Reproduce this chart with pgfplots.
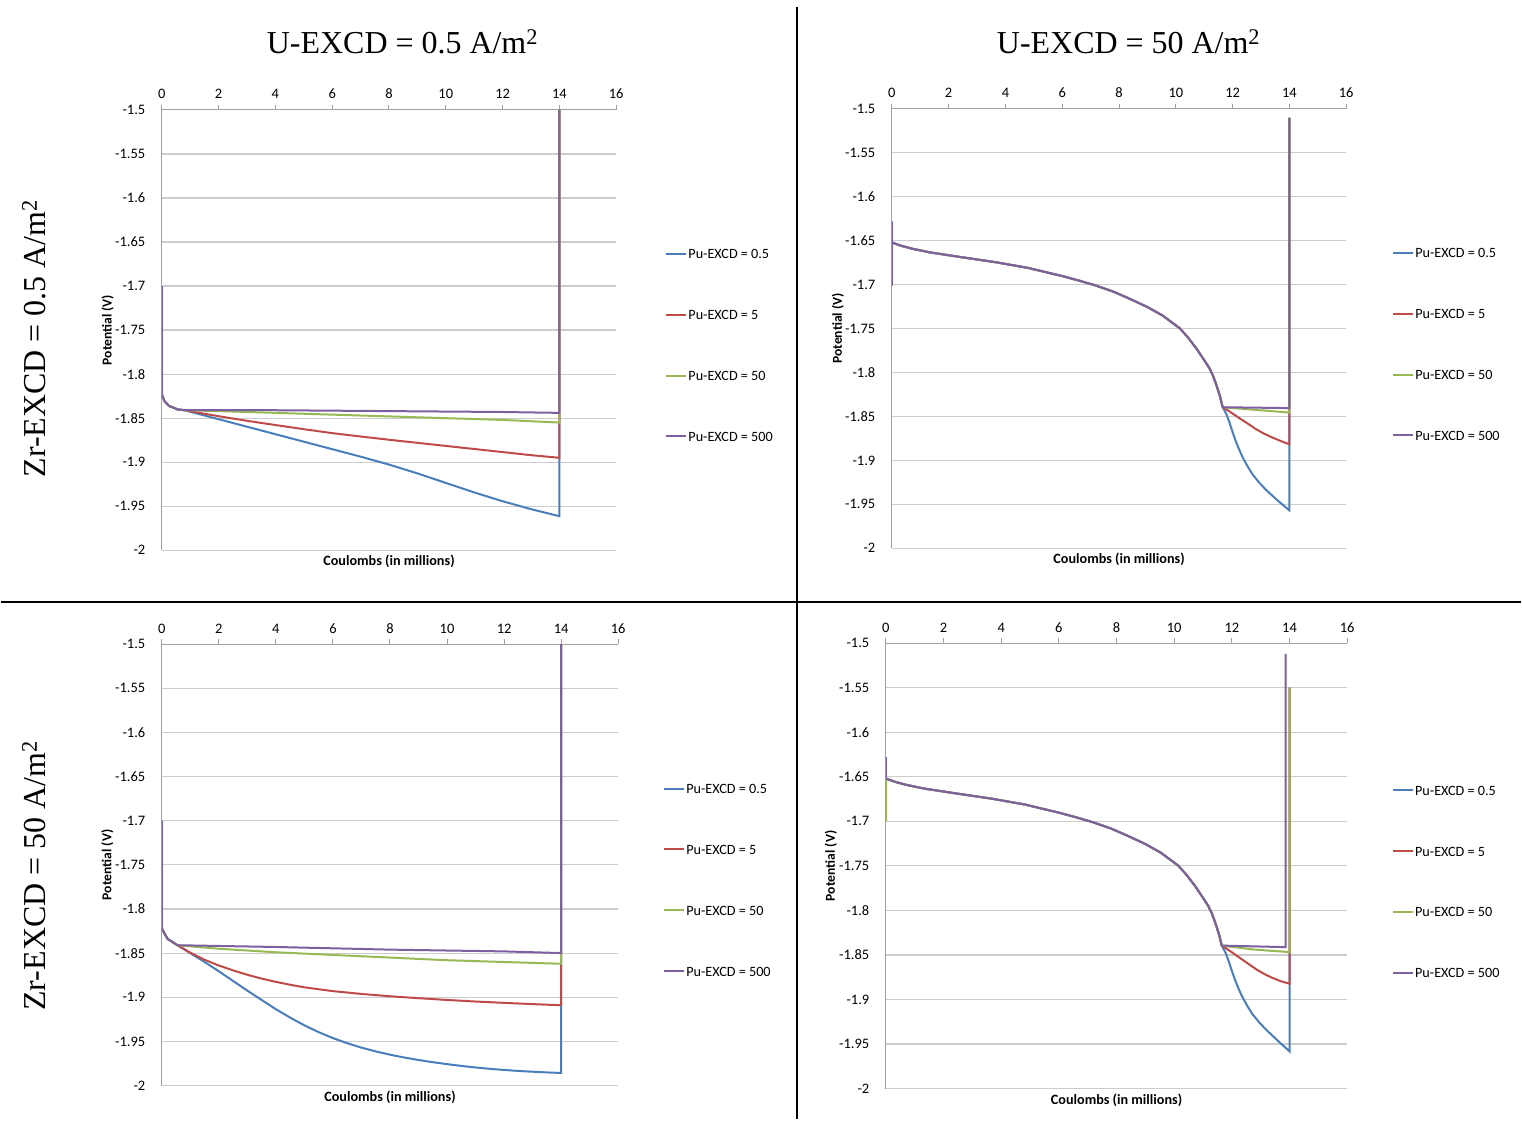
\documentclass[border=0pt]{standalone}
\usepackage{fontspec}
\setmainfont{Carlito}
\newfontfamily\tnr{Liberation Serif}
\usepackage{pgfplots}
\pgfplotsset{compat=1.18}

\definecolor{sblue}{HTML}{4A7EBB}
\definecolor{sred}{HTML}{BE4B48}
\definecolor{sgreen}{HTML}{98B954}
\definecolor{spurple}{HTML}{7D60A0}
\definecolor{gridgray}{HTML}{CCCCCC}
\definecolor{axisgray}{HTML}{A0A0A0}

\pgfplotsset{
  panel/.style={
    scale only axis, anchor=south west,
    xmin=0, xmax=16, ymin=-2, ymax=-1.5,
    xtick={0,2,...,16},
    ytick={-2,-1.95,-1.9,-1.85,-1.8,-1.75,-1.7,-1.65,-1.6,-1.55,-1.5},
    axis x line=top, axis y line=left,
    axis line style={-, draw=axisgray, line width=1.2pt},
    ymajorgrids, major grid style={gridgray, line width=1.2pt},
    x tick style={draw=axisgray, line width=1pt},
    major tick length=5pt, tick align=outside,
    y tick style={draw=none},
    tick label style={font=\fontsize{14.5}{17}\selectfont},
    /pgf/number format/assume math mode=true,
    xticklabel style={yshift=2.5pt},
    yticklabel style={xshift=-8pt},
    xlabel={\textbf{Coulombs (in millions)}},
    ylabel={\textbf{Potential (V)}},
    xlabel style={at={(axis description cs:0.5,-0.026)}, anchor=center,
      font=\fontsize{14.2}{17}\selectfont},
    ylabel style={at={(axis description cs:-0.119,0.5)}, anchor=center,
      font=\fontsize{13.6}{16}\selectfont},
    legend cell align=left,
    legend image code/.code={\draw[##1, line cap=butt] (0pt,0pt) -- (20pt,0pt);},
    legend style={draw=none, fill=none, anchor=west, inner sep=0pt,
      row sep=49pt, font=\fontsize{14.2}{17}\selectfont,
      nodes={inner sep=1pt, text height=10pt, text depth=0pt}},
    every axis plot/.append style={line width=2pt, mark=none},
  },
}

\begin{document}
\begin{tikzpicture}
\path[fill=white] (0pt,0pt) rectangle (1522pt,-1128pt);

% ---------- U-EXCD = 0.5, Zr-EXCD = 0.5 ----------
\begin{axis}[panel, at={(161pt,-551pt)}, width=455pt, height=441pt,
  legend style={at={(axis description cs:1.108,0.466)}}]
\addplot[sblue] coordinates {(0,-1.823) (0.1,-1.831) (0.25,-1.836) (0.55,-1.840) (0.8,-1.841)
  (2,-1.8512) (3,-1.8597) (4,-1.8682) (5,-1.8767) (6,-1.8852) (7,-1.8937) (8,-1.9027)
  (9,-1.9127) (10,-1.9235) (11,-1.9343) (12,-1.9443) (13,-1.9533) (14,-1.9613) (14,-1.5)};
\addplot[sred] coordinates {(0,-1.823) (0.1,-1.831) (0.25,-1.836) (0.55,-1.840) (0.8,-1.841)
  (1.5,-1.845) (2,-1.8478) (3,-1.853) (4,-1.8578) (5,-1.8625) (6,-1.867) (7,-1.8708)
  (8,-1.8745) (9,-1.878) (10,-1.8815) (11,-1.885) (12,-1.8885) (13,-1.892) (14,-1.895)
  (14,-1.5)};
\addplot[sgreen] coordinates {(0,-1.823) (0.1,-1.831) (0.25,-1.836) (0.55,-1.840) (0.8,-1.841)
  (2,-1.842) (4,-1.844) (6,-1.846) (8,-1.848) (10,-1.850) (12,-1.852) (14,-1.855) (14,-1.5)};
\addplot[spurple] coordinates {(0,-1.70) (0,-1.823) (0.1,-1.831) (0.25,-1.836) (0.55,-1.840)
  (0.8,-1.841) (4,-1.841) (8,-1.842) (12,-1.843) (14,-1.844) (14,-1.5)};
\legend{Pu-EXCD = 0.5, Pu-EXCD = 5, Pu-EXCD = 50, Pu-EXCD = 500}
\end{axis}

% ---------- U-EXCD = 50, Zr-EXCD = 0.5 ----------
\begin{axis}[panel, at={(892pt,-549pt)}, width=455pt, height=440pt,
  legend style={at={(axis description cs:1.101,0.4648)}}]
\addplot[sblue] coordinates {(0,-1.6519) (0.3,-1.6555) (0.7,-1.659) (1.34,-1.6633) (2.5,-1.669)
  (3.68,-1.6746) (4.8,-1.681) (6.03,-1.6905) (6.6,-1.6955) (7.2,-1.7012) (7.8,-1.708)
  (8.37,-1.716) (9,-1.7255) (9.54,-1.7353) (10.13,-1.7495) (10.4,-1.759) (10.72,-1.7725)
  (10.95,-1.7835) (11.18,-1.795) (11.3,-1.803) (11.42,-1.8135) (11.55,-1.8265) (11.65,-1.8395)
  (11.78,-1.8475) (11.89,-1.857) (12,-1.868) (12.12,-1.879) (12.24,-1.8885) (12.36,-1.897)
  (12.53,-1.907) (12.71,-1.9163) (12.95,-1.9258) (13.18,-1.9337) (13.42,-1.9408)
  (13.65,-1.9474) (14,-1.9569) (14,-1.51)};
\addplot[sred] coordinates {(0,-1.6519) (0.3,-1.6555) (0.7,-1.659) (1.34,-1.6633) (2.5,-1.669)
  (3.68,-1.6746) (4.8,-1.681) (6.03,-1.6905) (6.6,-1.6955) (7.2,-1.7012) (7.8,-1.708)
  (8.37,-1.716) (9,-1.7255) (9.54,-1.7353) (10.13,-1.7495) (10.4,-1.759) (10.72,-1.7725)
  (10.95,-1.7835) (11.18,-1.795) (11.3,-1.803) (11.42,-1.8135) (11.55,-1.8265) (11.65,-1.8395)
  (11.9,-1.8445) (12.24,-1.852) (12.55,-1.8585) (12.83,-1.8646) (13.1,-1.8695)
  (13.41,-1.8741) (13.7,-1.878) (14,-1.8817) (14,-1.51)};
\addplot[sgreen] coordinates {(0,-1.6519) (0.3,-1.6555) (0.7,-1.659) (1.34,-1.6633) (2.5,-1.669)
  (3.68,-1.6746) (4.8,-1.681) (6.03,-1.6905) (6.6,-1.6955) (7.2,-1.7012) (7.8,-1.708)
  (8.37,-1.716) (9,-1.7255) (9.54,-1.7353) (10.13,-1.7495) (10.4,-1.759) (10.72,-1.7725)
  (10.95,-1.7835) (11.18,-1.795) (11.3,-1.803) (11.42,-1.8135) (11.55,-1.8265) (11.65,-1.8395)
  (12.8,-1.8425) (14,-1.8455) (14,-1.51)};
\addplot[spurple] coordinates {(0,-1.628) (0,-1.701) (0,-1.6519) (0.3,-1.6555) (0.7,-1.659)
  (1.34,-1.6633) (2.5,-1.669) (3.68,-1.6746) (4.8,-1.681) (6.03,-1.6905) (6.6,-1.6955)
  (7.2,-1.7012) (7.8,-1.708) (8.37,-1.716) (9,-1.7255) (9.54,-1.7353) (10.13,-1.7495)
  (10.4,-1.759) (10.72,-1.7725) (10.95,-1.7835) (11.18,-1.795) (11.3,-1.803) (11.42,-1.8135)
  (11.55,-1.8265) (11.65,-1.8395) (14,-1.8405) (14,-1.5106)};
\legend{Pu-EXCD = 0.5, Pu-EXCD = 5, Pu-EXCD = 50, Pu-EXCD = 500}
\end{axis}

% ---------- U-EXCD = 0.5, Zr-EXCD = 50 ----------
\begin{axis}[panel, at={(161pt,-1087pt)}, width=457pt, height=442pt,
  legend style={at={(axis description cs:1.0985,0.466)}}]
\addplot[sblue] coordinates {(0,-1.822) (0.2,-1.8337) (0.55,-1.841) (1,-1.850) (1.5,-1.860)
  (2,-1.8705) (2.5,-1.8815) (3,-1.8925) (3.5,-1.903) (4,-1.9135) (4.5,-1.923) (5,-1.9318)
  (5.5,-1.9395) (6,-1.9462) (6.5,-1.952) (7,-1.957) (7.5,-1.9613) (8,-1.965) (8.5,-1.9682)
  (9,-1.971) (9.5,-1.9735) (10,-1.9757) (10.5,-1.9777) (11,-1.9795) (11.5,-1.981)
  (12,-1.9823) (12.5,-1.9834) (13,-1.9843) (13.5,-1.9851) (14,-1.9857) (14,-1.5)};
\addplot[sred] coordinates {(0,-1.822) (0.2,-1.8337) (0.55,-1.841) (1,-1.8495) (1.5,-1.8575)
  (2,-1.864) (2.5,-1.8695) (3,-1.8745) (3.5,-1.8788) (4,-1.8825) (4.5,-1.8858) (5,-1.8887)
  (6,-1.893) (7,-1.8962) (8,-1.8988) (9,-1.901) (10,-1.903) (11,-1.9048) (12,-1.9063)
  (13,-1.9077) (14,-1.909) (14,-1.5)};
\addplot[sgreen] coordinates {(0,-1.822) (0.2,-1.8337) (0.55,-1.841) (2,-1.845) (4,-1.849)
  (6,-1.852) (8,-1.855) (10,-1.858) (12,-1.860) (14,-1.862) (14,-1.5)};
\addplot[spurple] coordinates {(0,-1.70) (0,-1.822) (0.2,-1.8337) (0.55,-1.841) (4,-1.843)
  (8,-1.846) (12,-1.848) (14,-1.8499) (14,-1.5)};
\legend{Pu-EXCD = 0.5, Pu-EXCD = 5, Pu-EXCD = 50, Pu-EXCD = 500}
\end{axis}

% ---------- U-EXCD = 50, Zr-EXCD = 50 ----------
\begin{axis}[panel, at={(886pt,-1090pt)}, width=462pt, height=446pt,
  legend style={at={(axis description cs:1.097,0.465)}}]
\addplot[sblue] coordinates {(0,-1.6519) (0.3,-1.6555) (0.7,-1.659) (1.34,-1.6633) (2.5,-1.669)
  (3.68,-1.6746) (4.8,-1.681) (6.03,-1.6905) (6.6,-1.6955) (7.2,-1.7012) (7.8,-1.708)
  (8.37,-1.716) (9,-1.7255) (9.54,-1.7353) (10.13,-1.7495) (10.4,-1.759) (10.72,-1.7725)
  (10.95,-1.7835) (11.18,-1.795) (11.3,-1.803) (11.42,-1.8135) (11.55,-1.8265) (11.65,-1.8395)
  (11.78,-1.8475) (11.89,-1.857) (12,-1.868) (12.12,-1.879) (12.24,-1.8885) (12.36,-1.897)
  (12.53,-1.907) (12.71,-1.9163) (12.95,-1.9258) (13.18,-1.9337) (13.42,-1.941)
  (13.65,-1.948) (14,-1.9582) (14,-1.55)};
\addplot[sred] coordinates {(0,-1.6519) (0.3,-1.6555) (0.7,-1.659) (1.34,-1.6633) (2.5,-1.669)
  (3.68,-1.6746) (4.8,-1.681) (6.03,-1.6905) (6.6,-1.6955) (7.2,-1.7012) (7.8,-1.708)
  (8.37,-1.716) (9,-1.7255) (9.54,-1.7353) (10.13,-1.7495) (10.4,-1.759) (10.72,-1.7725)
  (10.95,-1.7835) (11.18,-1.795) (11.3,-1.803) (11.42,-1.8135) (11.55,-1.8265) (11.65,-1.8395)
  (11.9,-1.8448) (12.24,-1.8525) (12.55,-1.8595) (12.84,-1.866) (13.1,-1.871)
  (13.41,-1.8758) (13.7,-1.8795) (14,-1.8823) (14,-1.55)};
\addplot[sgreen] coordinates {(0,-1.70) (0,-1.6519) (0.3,-1.6555) (0.7,-1.659) (1.34,-1.6633)
  (2.5,-1.669) (3.68,-1.6746) (4.8,-1.681) (6.03,-1.6905) (6.6,-1.6955) (7.2,-1.7012)
  (7.8,-1.708) (8.37,-1.716) (9,-1.7255) (9.54,-1.7353) (10.13,-1.7495) (10.4,-1.759)
  (10.72,-1.7725) (10.95,-1.7835) (11.18,-1.795) (11.3,-1.803) (11.42,-1.8135)
  (11.55,-1.8265) (11.65,-1.8395) (12.8,-1.844) (14,-1.8468) (14,-1.55)};
\addplot[spurple] coordinates {(0,-1.628) (0,-1.6519) (0.3,-1.6555) (0.7,-1.659) (1.34,-1.6633)
  (2.5,-1.669) (3.68,-1.6746) (4.8,-1.681) (6.03,-1.6905) (6.6,-1.6955) (7.2,-1.7012)
  (7.8,-1.708) (8.37,-1.716) (9,-1.7255) (9.54,-1.7353) (10.13,-1.7495) (10.4,-1.759)
  (10.72,-1.7725) (10.95,-1.7835) (11.18,-1.795) (11.3,-1.803) (11.42,-1.8135)
  (11.55,-1.8265) (11.65,-1.8395) (13.86,-1.8412) (13.86,-1.512)};
\legend{Pu-EXCD = 0.5, Pu-EXCD = 5, Pu-EXCD = 50, Pu-EXCD = 500}
\end{axis}

% panel frame and headings
\draw[line width=2pt] (797pt,-7pt) -- (797pt,-1120pt);
\draw[line width=2pt] (0pt,-603pt) -- (1522pt,-603pt);
\node[font=\tnr\fontsize{32}{38}\selectfont, anchor=base, inner sep=0pt]
  at (402pt,-53.5pt) {U-EXCD = 0.5 A/m\textsuperscript{2}};
\node[font=\tnr\fontsize{32}{38}\selectfont, anchor=base, inner sep=0pt]
  at (1129pt,-53.5pt) {U-EXCD = 50 A/m\textsuperscript{2}};
\node[font=\tnr\fontsize{32}{38}\selectfont, anchor=base, rotate=90, inner sep=0pt]
  at (45pt,-339pt) {Zr-EXCD = 0.5 A/m\textsuperscript{2}};
\node[font=\tnr\fontsize{32}{38}\selectfont, anchor=base, rotate=90, inner sep=0pt]
  at (45pt,-877pt) {Zr-EXCD = 50 A/m\textsuperscript{2}};
\end{tikzpicture}
\end{document}
